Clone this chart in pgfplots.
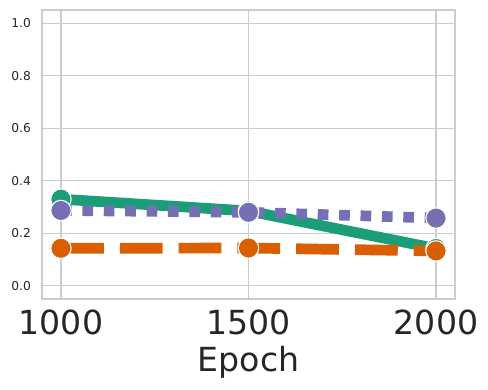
\documentclass[border=0pt]{standalone}
\usepackage{pgfplots}
\pgfplotsset{compat=1.18}
\usepackage{fontspec}
\setmainfont{DejaVu Sans}
\definecolor{sgreen}{HTML}{1B9E77}
\definecolor{sorange}{HTML}{D95F02}
\definecolor{spurple}{HTML}{7570B3}
\definecolor{gridgray}{HTML}{CCCCCC}
\definecolor{txtgray}{HTML}{262626}

\begin{document}
\begin{tikzpicture}
\useasboundingbox (-42bp,-91bp) rectangle (446bp,299bp);
\begin{axis}[
    at={(0,0)}, anchor=south west,
    scale only axis, width=413bp, height=289bp,
    xmin=949.4, xmax=2050.6, ymin=-0.05, ymax=1.05,
    xtick={1000,1500,2000},
    ytick={0,0.2,0.4,0.6,0.8,1.0},
    /pgf/number format/assume math mode=true,
    xticklabel style={font=\fontsize{33.3}{40}\selectfont, text=txtgray,
        anchor=north, inner sep=0pt, yshift=-11bp,
        /pgf/number format/1000 sep={}},
    yticklabel style={font=\fontsize{12.3}{15}\selectfont, text=txtgray,
        anchor=east, inner sep=0pt, xshift=-11bp,
        /pgf/number format/fixed, /pgf/number format/fixed zerofill,
        /pgf/number format/precision=1},
    xlabel={Epoch},
    xlabel style={font=\fontsize{33.3}{40}\selectfont, text=txtgray,
        at={(axis description cs:0.5,0)}, anchor=base, yshift=-72.7bp},
    grid=major, major grid style={gridgray, line width=1.1bp},
    axis line style={gridgray, line width=1.1bp},
    major tick length=0pt, tick style={draw=none},
    clip=false,
]
% green, solid
\addplot[sgreen, line width=10.7bp, line cap=butt, line join=round,
    mark=*, mark size=10.2bp,
    mark options={solid, fill=sgreen, draw=white, line width=1.1bp}]
    coordinates {(1000,0.330)(1500,0.285)(2000,0.142)};
% orange, dashed
\addplot[sorange, line width=10.7bp, line cap=butt, line join=round,
    dash pattern=on 42.8bp off 16bp,
    mark=*, mark size=10.2bp,
    mark options={solid, fill=sorange, draw=white, line width=1.1bp}]
    coordinates {(1000,0.143)(1500,0.144)(2000,0.133)};
% purple, dotted
\addplot[spurple, line width=10.7bp, line cap=butt, line join=round,
    dash pattern=on 10.7bp off 10.7bp,
    mark=*, mark size=10.2bp,
    mark options={solid, fill=spurple, draw=white, line width=1.1bp}]
    coordinates {(1000,0.287)(1500,0.280)(2000,0.258)};
\end{axis}
\end{tikzpicture}
\end{document}
